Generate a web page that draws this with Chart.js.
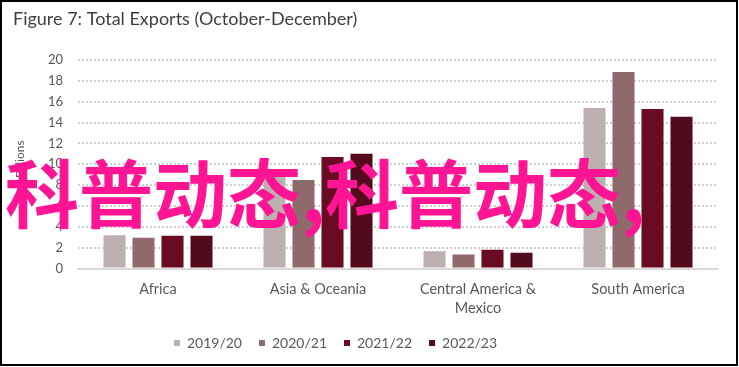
<!DOCTYPE html>
<html>
<head>
<meta charset="utf-8">
<script src="https://cdn.jsdelivr.net/npm/chart.js@4/dist/chart.umd.min.js"></script>
<style>
html,body{margin:0;padding:0;background:#fff;}
#wrap{position:relative;width:739px;height:367px;overflow:hidden;}
canvas{display:block;}
#frame{position:absolute;left:0;top:0;width:738px;height:366px;box-sizing:border-box;border:2px solid #000;pointer-events:none;}
#wm{position:absolute;left:5px;top:153px;font-family:"Noto Sans CJK SC";font-weight:700;font-size:74px;line-height:74px;color:#ff1493;white-space:nowrap;pointer-events:none;}
</style>
</head>
<body>
<div id="wrap">
  <canvas id="c" width="739" height="367"></canvas>
  <div id="wm">科普动态,科普动态,</div>
  <div id="frame"></div>
</div>
<script>
const titleText = 'Figure 7: Total Exports (October-December)';
const yAxisTitle = '$ Billions';
const categories = ['Africa', 'Asia & Oceania', ['Central America &', 'Mexico'], 'South America'];
const seriesNames = ['2019/20', '2020/21', '2021/22', '2022/23'];
const values2019 = [3.2, 9.1, 1.65, 15.4];
const values2020 = [2.95, 8.5, 1.35, 18.85];
const values2021 = [3.15, 10.7, 1.8, 15.3];
const values2022 = [3.15, 11.0, 1.5, 14.55];
const seriesColors = ['#bdb0b0', '#8e6a6c', '#690b23', '#530a1d'];
const yTicks = [0, 2, 4, 6, 8, 10, 12, 14, 16, 18, 20];

const seriesValues = [values2019, values2020, values2021, values2022];
const FONT = 'Lato';
const TXT = '#595959';

const legendShift = {
  id: 'legendShift',
  afterLayout(chart) {
    if (chart.legend) { chart.legend.left -= 30; chart.legend.right -= 30; }
  }
};

new Chart(document.getElementById('c'), {
  type: 'bar',
  data: {
    labels: categories,
    datasets: seriesNames.map((n, i) => ({
      label: n,
      data: seriesValues[i],
      backgroundColor: seriesColors[i],
      borderWidth: 0,
      barPercentage: 0.76,
      categoryPercentage: 0.725
    }))
  },
  options: {
    responsive: false,
    animation: false,
    devicePixelRatio: 1,
    layout: { padding: { left: 13, right: 21, top: 0, bottom: 7 } },
    plugins: {
      title: {
        display: true,
        text: titleText,
        align: 'start',
        color: '#3f3f3f',
        font: { family: FONT, size: 18, weight: 'normal' },
        padding: { top: 8, bottom: 30.4 }
      },
      legend: {
        position: 'bottom',
        labels: {
          boxWidth: 6, boxHeight: 6, padding: 17,
          color: TXT,
          font: { family: FONT, size: 14 }
        }
      },
      tooltip: { enabled: false }
    },
    scales: {
      x: {
        grid: { display: false, drawTicks: false },
        border: { display: true, color: '#d9d9d9', width: 2 },
        ticks: { color: TXT, padding: 11, font: { family: FONT, size: 14.5, lineHeight: 1.31 }, maxRotation: 0, autoSkip: false },
        afterFit(scale) { scale.height = 50.5; }
      },
      y: {
        min: 0, max: 20,
        afterBuildTicks(scale) { scale.ticks = yTicks.map(v => ({ value: v })); },
        grid: { color: '#d0d0d0', lineWidth: 2, drawTicks: false },
        border: { display: false, dash: [2, 2] },
        ticks: { color: TXT, padding: 15, font: { family: FONT, size: 13 } },
        title: { display: true, text: yAxisTitle, color: TXT, font: { family: FONT, size: 12 }, padding: { top: 0, bottom: 0 } },
        afterFit(scale) { scale.width = 65; }
      }
    }
  },
  plugins: [legendShift]
});
</script>
</body>
</html>
